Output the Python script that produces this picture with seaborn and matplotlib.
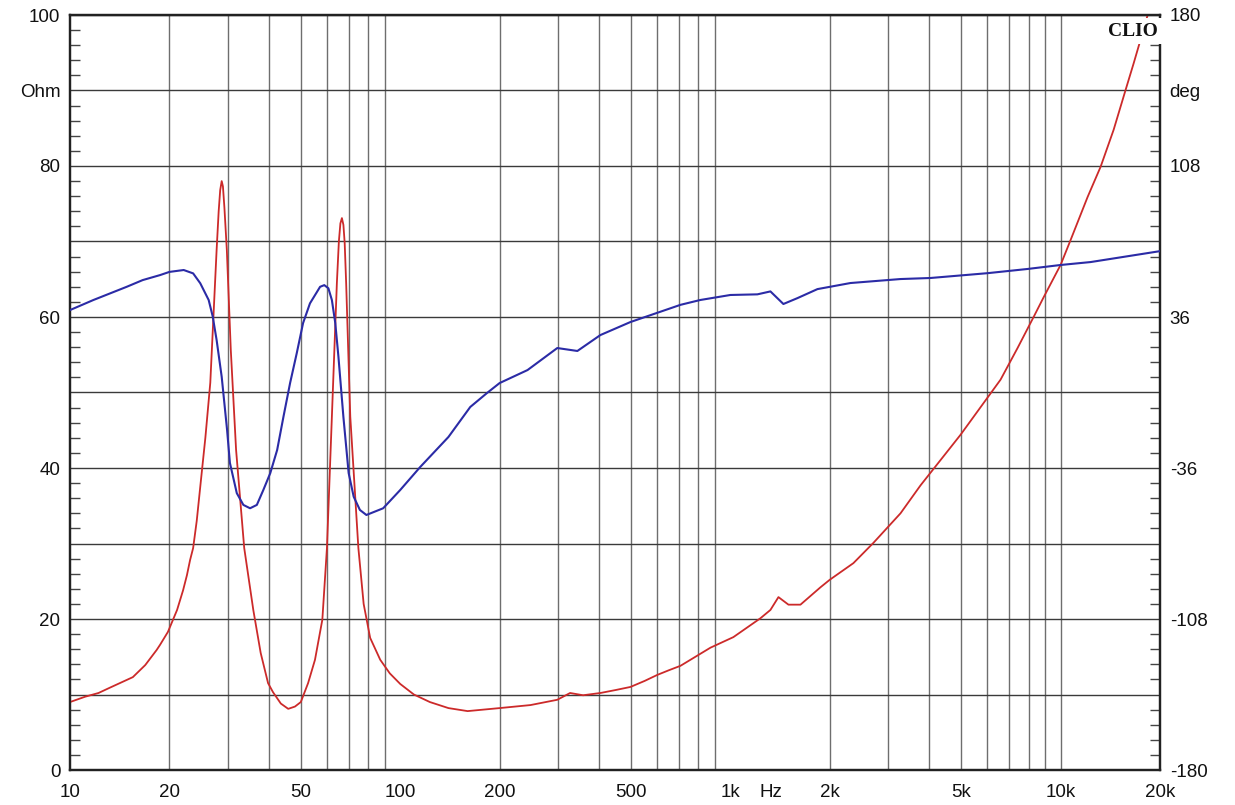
import numpy as np
import pandas as pd
import matplotlib
matplotlib.use("Agg")
import matplotlib.pyplot as plt
from matplotlib.ticker import NullFormatter
import seaborn as sns

# ---------------- data ----------------
imp_freq = [10, 11.1, 12.2, 13.2, 15.5, 16.9, 18.3, 18.75, 19.8, 21.1, 22.0, 22.6, 23.1, 23.6,
            24.2, 24.8, 25.7, 26.6, 27.8, 28.2, 28.5, 28.8, 29.05, 29.35, 29.85, 30.69, 31.84,
            33.7, 35.9, 37.8, 39.8, 41.2, 43.5, 45.8, 48, 50, 52.6, 55.2, 58.1, 60.0, 62.1,
            64.3, 65.2, 65.9, 66.6, 67.3, 67.9, 68.6, 70.6, 74.7, 77.5, 81.1, 87, 93, 100, 110,
            123, 140, 160, 200, 248, 299, 327, 358, 404, 450, 498, 550, 601, 650, 706, 870,
            1021, 1233, 1322, 1398, 1499, 1630, 1874, 2000, 2358, 2713, 3275, 3765, 4977, 6579,
            7409, 8284, 8881, 10000, 10723, 12073, 13219, 14476, 15740, 16644, 17728, 18350]
imp_ohm = [9.0, 9.7, 10.2, 10.9, 12.3, 13.9, 15.9, 16.6, 18.3, 21.2, 23.8, 25.8, 27.8, 29.4,
           33.0, 37.5, 44.0, 51.3, 68.9, 74.0, 76.8, 78.0, 77.3, 74.5, 68.9, 55.6, 42.4,
           29.4, 21.2, 15.5, 11.5, 10.3, 8.8, 8.1, 8.4, 9.0, 11.5, 14.6, 19.9, 29.4, 46.8,
           64.5, 70.0, 72.4, 73.1, 72.2, 69.8, 64.5, 46.8, 29.4, 22.0, 17.5, 14.6, 12.8, 11.4,
           10.0, 9.0, 8.2, 7.8, 8.2, 8.6, 9.3, 10.2, 9.9, 10.2, 10.6, 11.0, 11.8, 12.6, 13.2,
           13.8, 16.2, 17.6, 20.1, 21.2, 22.9, 21.9, 21.9, 24.2, 25.2, 27.4, 30.1, 34.0, 37.7,
           44.4, 51.7, 55.9, 60.0, 62.6, 66.9, 70.2, 75.9, 79.9, 84.8, 90.1, 93.6, 97.7, 100.0]

phase_freq = [10, 11.77, 14.85, 16.6, 18.75, 20, 22.1, 23.6, 24.8, 26.3, 27.05, 27.8, 28.8,
              29.9, 30.5, 32.0, 33.5, 35.1, 36.8, 38.5, 40.4, 42.4, 44.3, 46.4, 48.6, 50.8,
              53.3, 57.2, 58.9, 60.6, 62.1, 63.6, 65.0, 67.3, 69.8, 72.3, 75.5, 79.0, 88.8, 100,
              115, 140, 163, 183, 200, 243, 299, 344, 404, 498, 706, 810, 1000, 1207, 1322,
              1447, 1596, 1835, 2310, 3275, 4036, 6010, 7943, 10000, 12330, 20000]
phase_deg = [39.3, 44.1, 50.4, 53.6, 56.0, 57.5, 58.4, 56.8, 52.1, 44.1, 36.3, 25.0, 7.5,
             -17.8, -33.6, -48.0, -53.6, -55.2, -53.6, -46.5, -38.5, -27.4, -11.6, 4.5, 18.7,
             33.1, 42.5, 50.4, 51.2, 49.7, 44.1, 33.0, 17.1, -11.7, -38.4, -49.7, -56.0, -58.4,
             -55.2, -46.5, -35.5, -21.2, -6.9, -0.3, 4.5, 10.7, 21.2, 19.8, 27.4, 33.6, 41.8,
             44.1, 46.5, 46.8, 48.2, 42.2, 45.0, 49.3, 52.2, 54.1, 54.6, 56.9, 58.9, 60.8,
             62.2, 67.4]

x_tick_vals = [10, 20, 50, 100, 200, 500, 1000, 1330, 2000, 5000, 10000, 20000]
x_tick_text = ["10", "20", "50", "100", "200", "500", "1k", "Hz", "2k", "5k", "10k", "20k"]
ohm_tick_vals = [0, 20, 40, 60, 80, 90, 100]
ohm_tick_text = ["0", "20", "40", "60", "80", "Ohm", "100"]
deg_tick_vals = [-180, -108, -36, 36, 108, 144, 180]
deg_tick_text = ["-180", "-108", "-36", "36", "108", "deg", "180"]

imp_df = pd.DataFrame({"f": imp_freq, "ohm": imp_ohm})
ph_df = pd.DataFrame({"f": phase_freq, "deg": phase_deg})

# ---------------- style ----------------
sns.set_style("white")
plt.rcParams["font.family"] = ["Liberation Sans", "DejaVu Sans"]

W, H = 1235, 805
fig = plt.figure(figsize=(W / 100, H / 100), dpi=100)
ax = fig.add_axes([70 / W, 35 / H, 1090 / W, 755 / H])
ax2 = ax.twinx()

red = "#cc2a2a"
blue = "#2b2ba6"
fs = 13.5

sns.lineplot(data=imp_df, x="f", y="ohm", ax=ax, color=red, lw=1.3, sort=False, zorder=3)
sns.lineplot(data=ph_df, x="f", y="deg", ax=ax2, color=blue, lw=1.5, sort=False, zorder=3)

ax.set_xscale("log")
ax.set_xlim(10, 20000)
ax.set_ylim(0, 100)
ax2.set_ylim(-180, 180)
ax.set_xlabel("")
ax.set_ylabel("")
ax2.set_ylabel("")

# vertical grid lines: 20..90, 100..900, 1k..9k, 10k
grid_f = [m * d for d in (10, 100, 1000) for m in range(2, 10)] + [10000]
ax.set_xticks(x_tick_vals)
ax.set_xticklabels(x_tick_text)
ax.set_xticks(grid_f, minor=True)
ax.xaxis.remove_overlapping_locs = False
ax.xaxis.set_minor_formatter(NullFormatter())
ax.tick_params(axis="x", which="both", length=0, pad=10, labelsize=fs, colors="#111111")
ax.grid(False)
ax.grid(True, axis="x", which="minor", color="#6e6e6e", lw=1.0)

# horizontal grid lines every 10 Ohm
ax.set_yticks(np.arange(0, 101, 10), minor=False)
lab_map = dict(zip(ohm_tick_vals, ohm_tick_text))
ax.set_yticklabels([lab_map.get(int(v), "") for v in np.arange(0, 101, 10)])
ax.set_yticks(np.arange(0, 101, 2), minor=True)
ax.yaxis.set_minor_formatter(NullFormatter())
ax.tick_params(axis="y", which="major", length=0, pad=7, labelsize=fs, colors="#111111")
ax.tick_params(axis="y", which="minor", direction="in", length=7, width=1, color="#444444")
ax.grid(True, axis="y", which="major", color="#3a3a3a", lw=1.0)

ax2.set_yticks(np.arange(-180, 181, 36))
dmap = dict(zip(deg_tick_vals, deg_tick_text))
ax2.set_yticklabels([dmap.get(int(v), "") for v in np.arange(-180, 181, 36)])
ax2.set_yticks(np.arange(-180, 180.1, 7.2), minor=True)
ax2.yaxis.set_minor_formatter(NullFormatter())
ax2.tick_params(axis="y", which="major", length=0, pad=7, labelsize=fs, colors="#111111")
ax2.tick_params(axis="y", which="minor", direction="in", length=7, width=1, color="#444444")
ax2.grid(False)

for a in (ax, ax2):
    for s in a.spines.values():
        s.set_color("#222222")
        s.set_linewidth(1.6)
        s.set_visible(True)
    a.spines["top"].set_zorder(20)

# CLIO mark (drawn on the twin axes so it sits above both curves)
ax2.text(0.998, 0.99, "CLIO", transform=ax2.transAxes, ha="right", va="top",
         fontsize=14, fontweight="bold", family=["Liberation Serif", "DejaVu Serif"],
         color="#111111", zorder=10,
         bbox=dict(facecolor="white", edgecolor="none", pad=3.0))

fig.savefig("out.png", dpi=100, facecolor="white")
